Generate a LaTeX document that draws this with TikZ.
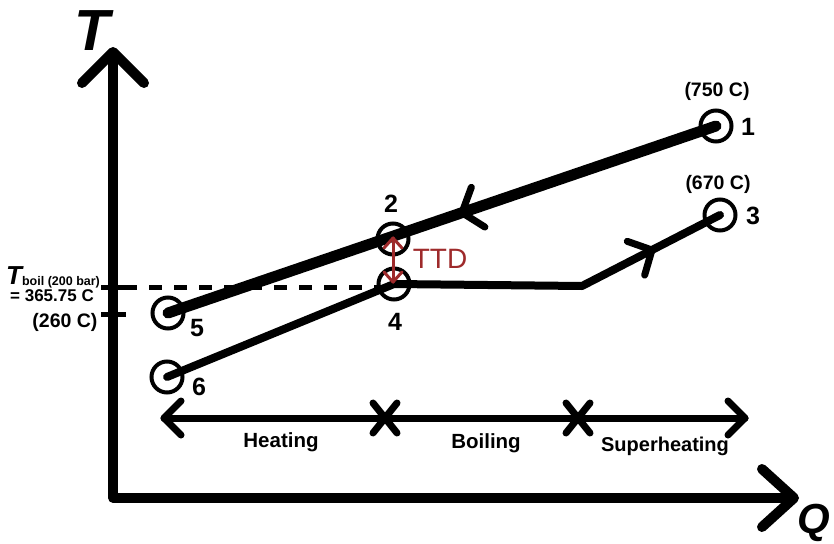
\documentclass[tikz,border=0pt]{standalone}
\usepackage{fontspec}
\setmainfont{Liberation Sans}
\usetikzlibrary{calc,decorations.markings}
\definecolor{ttdred}{HTML}{9E2A2B}
\begin{document}
\begin{tikzpicture}[x=1pt,y=-1pt,
  axisline/.style={line width=9.5pt,line join=round},
  axischev/.style={line width=10pt,line cap=round,line join=round},
  hotline/.style={line width=11pt,line cap=round,line join=round},
  coldline/.style={line width=8pt,line cap=round,line join=round},
  regline/.style={line width=7pt,line cap=round,line join=round},
  chev/.style={line width=7pt,line cap=round,line join=round},
  ptc/.style={circle,draw,line width=4pt,minimum size=31pt,inner sep=0pt},
  num/.style={font=\fontsize{25}{25}\selectfont\bfseries},
  temp/.style={font=\fontsize{19.5}{20}\selectfont\bfseries},
  region/.style={font=\fontsize{20.5}{20}\selectfont\bfseries},
  bigit/.style={font=\fontsize{58}{58}\selectfont\bfseries\itshape},
]
\useasboundingbox (0,0) rectangle (834,543);
% axes
\coordinate (o) at (113,498);
\coordinate (ytip) at (113,52);
\coordinate (ytop) at (113,58);
\coordinate (xtip) at (794,498);
\coordinate (xend) at (788,498);
\draw[axisline] (ytop) -- (o) -- (xend);
\draw[axischev] ($(ytip)+(-31,31)$) -- (ytip) -- ($(ytip)+(31,31)$);
\draw[axischev] ($(xtip)+(-32,-29)$) -- (xtip) -- ($(xtip)+(-32,29)$);
\node[bigit] (tlab) at (92,31) {T};
\node[font=\fontsize{42}{42}\selectfont\bfseries\itshape, anchor=base, inner sep=0pt] (qlab) at (814,533) {Q};
% ticks and dashed line
\coordinate (t1a) at (101,287);
\coordinate (t1b) at (126,287);
\coordinate (t2a) at (101,314);
\coordinate (t2b) at (126,314);
\draw[line width=5pt] (t1a) -- (t1b);
\draw[line width=5pt] (t2a) -- (t2b);
\coordinate (dsa) at (124,287);
\coordinate (dsb) at (384,287);
\draw[line width=5pt, dash pattern=on 13pt off 12pt] (dsa) -- (dsb);
% left labels
\node[anchor=base west, inner sep=0pt] (tboil) at (6,284)
  {{\fontsize{26}{26}\selectfont\bfseries\itshape T}\raisebox{-1.5pt}{\fontsize{12.5}{13}\selectfont\bfseries boil (200 bar)}};
\node[font=\fontsize{17}{17}\selectfont\bfseries] (tval) at (52,296) {= 365.75 C};
\node[temp] (t260) at (65,322) {(260 C)};
% state points
\node[ptc] (n1) at (716,126) {};
\node[ptc] (n2) at (393,239) {};
\node[ptc] (n3) at (720,215) {};
\node[ptc] (n4) at (394,284) {};
\node[ptc] (n5) at (168,313) {};
\node[ptc] (n6) at (167,377) {};
% hot stream
\draw[hotline, postaction={decorate}, decoration={markings,
  mark=at position 0.4635 with {\draw[chev] (-17,21) -- (0,0) -- (-17,-21);}}]
  (n1.center) -- (n5.center);
% cold stream
\coordinate (bend) at (582,286);
\draw[coldline] (n6.center) -- (n4.center) -- (bend) -- (n3.center);
\path[decorate, decoration={markings,
  mark=at position 0.507 with {\draw[chev] (-18,19) -- (0,0) -- (-18,-19);}}]
  (bend) -- (n3.center);
% TTD
\coordinate (ttdt) at (393,238);
\coordinate (ttdb) at (393,282);
\draw[ttdred, line width=3pt, line cap=round, line join=round] (ttdt) -- (ttdb);
\draw[ttdred, line width=3pt, line cap=round, line join=round]
  ($(ttdt)+(-9,10)$) -- (ttdt) -- ($(ttdt)+(9,10)$);
\draw[ttdred, line width=3pt, line cap=round, line join=round]
  ($(ttdb)+(-9,-10)$) -- (ttdb) -- ($(ttdb)+(9,-10)$);
\node[text=ttdred, font=\fontsize{28}{28}\selectfont] (ttd) at (440,259) {TTD};
% point labels
\node[num] (l1) at (748,127) {1};
\node[num] (l2) at (391,204) {2};
\node[num] (l3) at (753,216) {3};
\node[num] (l4) at (395,322) {4};
\node[num] (l5) at (197,328) {5};
\node[num] (l6) at (199,387) {6};
\node[temp] (c750) at (717,91) {(750 C)};
\node[temp] (c670) at (718,184) {(670 C)};
% region arrow
\coordinate (bl) at (164,418);
\coordinate (br) at (745,418);
\draw[regline] (bl) -- (br);
\draw[regline] ($(bl)+(17,-17)$) -- (bl) -- ($(bl)+(17,17)$);
\draw[regline] ($(br)+(-17,-17)$) -- (br) -- ($(br)+(-17,17)$);
\coordinate (x1) at (385,418);
\coordinate (x2) at (578,418);
\draw[regline] ($(x1)+(-12,-15)$) -- ($(x1)+(12,15)$);
\draw[regline] ($(x1)+(12,-15)$) -- ($(x1)+(-12,15)$);
\draw[regline] ($(x2)+(-12,-15)$) -- ($(x2)+(12,15)$);
\draw[regline] ($(x2)+(12,-15)$) -- ($(x2)+(-12,15)$);
\node[region] (heat) at (281,442) {Heating};
\node[region] (boil) at (486,443) {Boiling};
\node[font=\fontsize{20}{20}\selectfont\bfseries] (sup) at (665,446) {Superheating};
\end{tikzpicture}
\end{document}
